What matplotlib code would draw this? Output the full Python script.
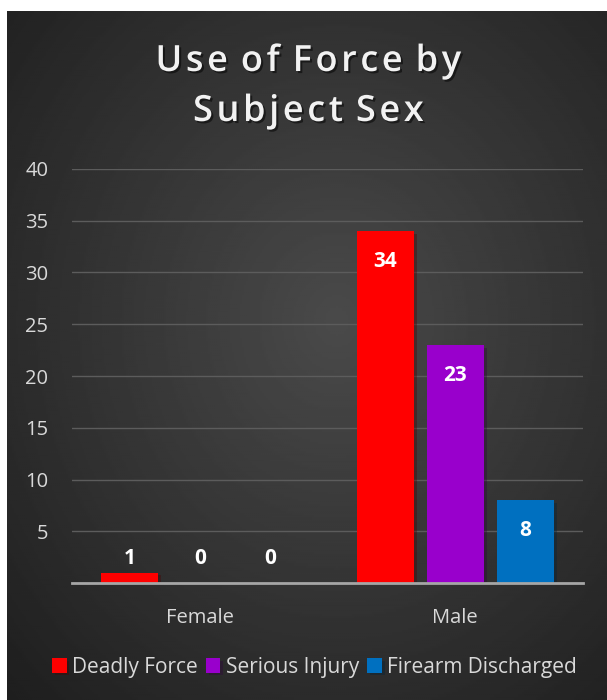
import numpy as np
import matplotlib.pyplot as plt
import matplotlib.patheffects as pe

# data
categories = ["Female", "Male"]
series_names = ["Deadly Force", "Serious Injury", "Firearm Discharged"]
deadly_force = [1, 34]
serious_injury = [0, 23]
firearm_discharged = [0, 8]
colors = ["#FF0000", "#9900CC", "#0070C0"]
title_lines = ["Use of Force by", "Subject Sex"]

plt.rcParams['font.family'] = ['Open Sans', 'DejaVu Sans']


def spaced(s):
    # Excel-style widened letter spacing
    return " \u200a".join("\u200a".join(w) for w in s.split(" "))


fig = plt.figure(figsize=(6.07, 7.0), dpi=100)
fig.patch.set_facecolor("white")

# dark radial gradient background (thin white border at left/top)
bg = fig.add_axes([7/607, 0, 600/607, 689/700])
yy, xx = np.mgrid[0:1:300j, 0:1:300j]
r = np.sqrt((xx - 0.55)**2 + (yy - 0.45)**2)
bg.imshow(np.clip(0.29 - 0.22 * r, 0, 1), cmap="gray", vmin=0, vmax=1,
          extent=[0, 1, 0, 1], aspect="auto")
bg.axis("off")

# plot area in pixels: x 72..583, y 169..583
ax = fig.add_axes([72/607, 1 - 583/700, 511/607, 414/700])
ax.set_facecolor("none")

x = np.arange(len(categories))
width = 0.223
step = 0.274
all_series = [deadly_force, serious_injury, firearm_discharged]
for i, (vals, name, c) in enumerate(zip(all_series, series_names, colors)):
    pos = x + (i - 1) * step
    ax.bar(pos, vals, width, color=c, label=name, zorder=3,
           path_effects=[pe.SimplePatchShadow(offset=(2, -2), alpha=0.35), pe.Normal()])
    for xp, v in zip(pos, vals):
        if v > 5:
            ax.text(xp, v - 1.9, str(v), ha="center", va="top", color="white",
                    fontsize=15, fontweight="bold", zorder=4)
        else:
            ax.text(xp, 1.4, str(v), ha="center", va="bottom", color="white",
                    fontsize=15, fontweight="bold", zorder=4)

ax.set_xlim(-0.5, 1.5)
ax.set_ylim(0, 40)
ax.set_yticks([5, 10, 15, 20, 25, 30, 35, 40])
ax.grid(axis="y", color="#5c5c5c", linewidth=1, zorder=0)
ax.tick_params(axis="y", length=0, labelsize=14.5, labelcolor="#d9d9d9", pad=17)
ax.set_xticks(x)
ax.set_xticklabels(categories)
ax.tick_params(axis="x", length=0, labelsize=14.5, labelcolor="#d9d9d9", pad=18)
for s in ["top", "right", "left"]:
    ax.spines[s].set_visible(False)
ax.spines["bottom"].set_color("#a6a6a6")
ax.spines["bottom"].set_linewidth(2)
ax.spines["bottom"].set_zorder(5)

for line, ypix in zip(title_lines, [62, 112]):
    fig.text(0.508, 1 - ypix/700, spaced(line), ha="center", va="center",
             color="#f2f2f2", fontsize=26, fontweight="semibold",
             path_effects=[pe.withSimplePatchShadow(offset=(1.5, -1.5), shadow_rgbFace="black", alpha=0.5)])

fig.legend(loc="center", bbox_to_anchor=(0.518, 1 - 667/700), ncol=3, frameon=False,
           fontsize=15, labelcolor="#d9d9d9", handlelength=0.7, handleheight=0.7,
           handletextpad=0.25, columnspacing=0.4)

fig.savefig("out.png", dpi=100)
